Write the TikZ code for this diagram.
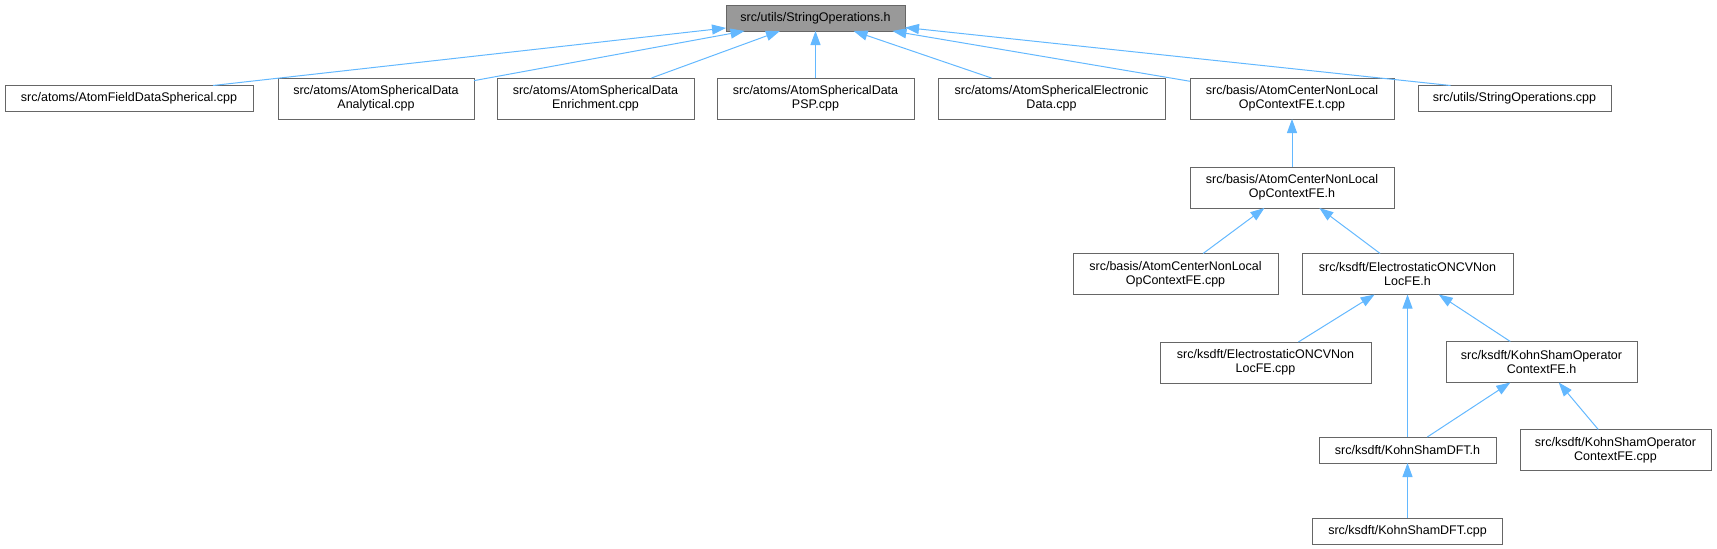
\documentclass[tikz,border=0pt]{standalone}
\usepackage{fontspec}
\setmainfont{Liberation Sans}
\usetikzlibrary{arrows.meta, positioning}
\definecolor{linkblue}{HTML}{63B8FF}

\begin{document}
\begin{tikzpicture}[x=1pt, y=-1pt,
    file/.style={draw=black!60, line width=1pt, fill=white, inner sep=0pt, outer sep=0pt, minimum height=41pt, align=center, font=\fontsize{12.5}{14}\selectfont},
    single/.style={file, minimum height=26pt},
    root/.style={single, fill=black!40},
    link/.style={draw=linkblue, line width=1pt, -{Triangle[length=14pt,width=10pt,fill=linkblue]}}
  ]
    \useasboundingbox (0,0) rectangle (1717,549);

    \node[root, minimum width=179pt] (root) at (815.5,18) {src/utils/StringOperations.h};

    \node[single, minimum width=248pt] (fds) at (129,98.5) {src/atoms/AtomFieldDataSpherical.cpp};
    \node[file, minimum width=196pt, right=25pt of fds] (analytical) {src/atoms/AtomSphericalData\\Analytical.cpp};
    \node[file, minimum width=197pt, right=23pt of analytical] (enrichment) {src/atoms/AtomSphericalData\\Enrichment.cpp};
    \node[file, minimum width=197pt, right=23pt of enrichment] (psp) {src/atoms/AtomSphericalData\\PSP.cpp};
    \node[file, minimum width=227pt, right=24pt of psp] (electronic) {src/atoms/AtomSphericalElectronic\\Data.cpp};
    \node[file, minimum width=204pt, right=25pt of electronic] (opctxt) {src/basis/AtomCenterNonLocal\\OpContextFE.t.cpp};
    \node[single, minimum width=193pt, right=24pt of opctxt] (strcpp) {src/utils/StringOperations.cpp};

    \node[file, minimum width=204pt, below=48pt of opctxt] (opcth) {src/basis/AtomCenterNonLocal\\OpContextFE.h};

    \node[file, minimum width=205pt] (opccpp) at (1175.5,274) {src/basis/AtomCenterNonLocal\\OpContextFE.cpp};
    \node[file, minimum width=211pt, right=24pt of opccpp] (esh) {src/ksdft/ElectrostaticONCVNon\\LocFE.h};

    \node[file, minimum width=211pt] (escpp) at (1265.5,362.5) {src/ksdft/ElectrostaticONCVNon\\LocFE.cpp};
    \node[file, minimum width=191pt] (ksoh) at (1541.5,362) {src/ksdft/KohnShamOperator\\ContextFE.h};

    \node[single, minimum width=177pt] (ksh) at (1407.5,450) {src/ksdft/KohnShamDFT.h};
    \node[file, minimum width=191pt] (ksocpp) at (1615.5,450) {src/ksdft/KohnShamOperator\\ContextFE.cpp};

    \node[single, minimum width=190pt, below=55pt of ksh] (kscpp) {src/ksdft/KohnShamDFT.cpp};

    % includes point back to the header
    \draw[link] ([xshift=84pt]fds.north) -- (root);
    \foreach \n in {analytical,enrichment,psp,electronic,opctxt}
      \draw[link] (\n) -- (root);
    \draw[link] ([xshift=-64pt]strcpp.north) -- (root);
    \draw[link] (opcth) -- (opctxt);
    \draw[link] (opccpp) -- (opcth);
    \draw[link] (esh) -- (opcth);
    \draw[link] (escpp) -- (esh);
    \draw[link] (ksh) -- (esh);
    \draw[link] (ksoh) -- (esh);
    \draw[link] (ksh) -- (ksoh);
    \draw[link] (ksocpp) -- (ksoh);
    \draw[link] (kscpp) -- (ksh);
\end{tikzpicture}
\end{document}
